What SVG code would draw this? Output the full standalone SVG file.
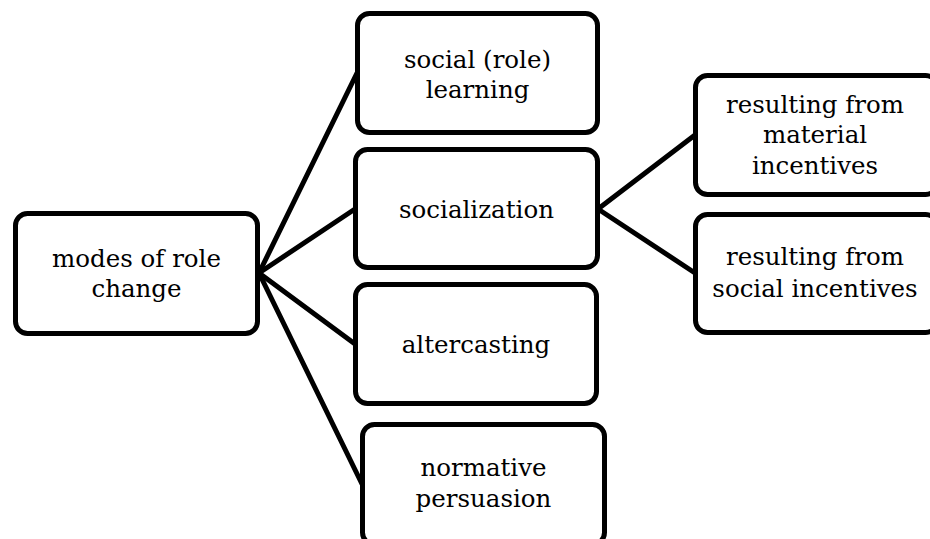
<svg xmlns="http://www.w3.org/2000/svg" width="930" height="539" viewBox="0 0 930 539">
<style>
.box{fill:#fff;stroke:#000;stroke-width:5;}
.lbl{font-family:"DejaVu Serif","Liberation Serif",serif;font-size:24.5px;fill:#000;text-anchor:middle;}
.conn line{stroke:#000;stroke-width:5;stroke-linecap:round;}
</style>
<rect width="930" height="539" fill="#fff"/>
<g id="connectors" class="conn">
<line x1="259" y1="273" x2="357" y2="73"/>
<line x1="259" y1="273" x2="355" y2="209"/>
<line x1="259" y1="273" x2="355" y2="344"/>
<line x1="259" y1="273" x2="362" y2="484"/>
<line x1="598" y1="209" x2="695" y2="135"/>
<line x1="598" y1="209" x2="695" y2="273"/>
</g>
<g id="modes">
<rect class="box" x="15.5" y="213.5" width="242" height="120" rx="12"/>
<text class="lbl" x="136.5" y="267">modes of role</text>
<text class="lbl" x="136.5" y="297">change</text>
</g>
<g id="learning">
<rect class="box" x="357.5" y="13.5" width="240" height="119" rx="12"/>
<text class="lbl" x="477.5" y="68">social (role)</text>
<text class="lbl" x="477.5" y="98">learning</text>
</g>
<g id="socialization">
<rect class="box" x="355.5" y="149.5" width="242" height="118" rx="12"/>
<text class="lbl" x="476.5" y="218">socialization</text>
</g>
<g id="altercasting">
<rect class="box" x="355.5" y="284.5" width="241" height="119" rx="12"/>
<text class="lbl" x="476" y="353">altercasting</text>
</g>
<g id="normative">
<rect class="box" x="362.5" y="424.5" width="242" height="120" rx="12"/>
<text class="lbl" x="483.5" y="476">normative</text>
<text class="lbl" x="483.5" y="507">persuasion</text>
</g>
<g id="material">
<rect class="box" x="695.5" y="75.5" width="242" height="119" rx="12"/>
<text class="lbl" x="815" y="113">resulting from</text>
<text class="lbl" x="815" y="143">material</text>
<text class="lbl" x="815" y="174">incentives</text>
</g>
<g id="social-incentives">
<rect class="box" x="695.5" y="214.5" width="242" height="118" rx="12"/>
<text class="lbl" x="815" y="265">resulting from</text>
<text class="lbl" x="815" y="297">social incentives</text>
</g>
</svg>
